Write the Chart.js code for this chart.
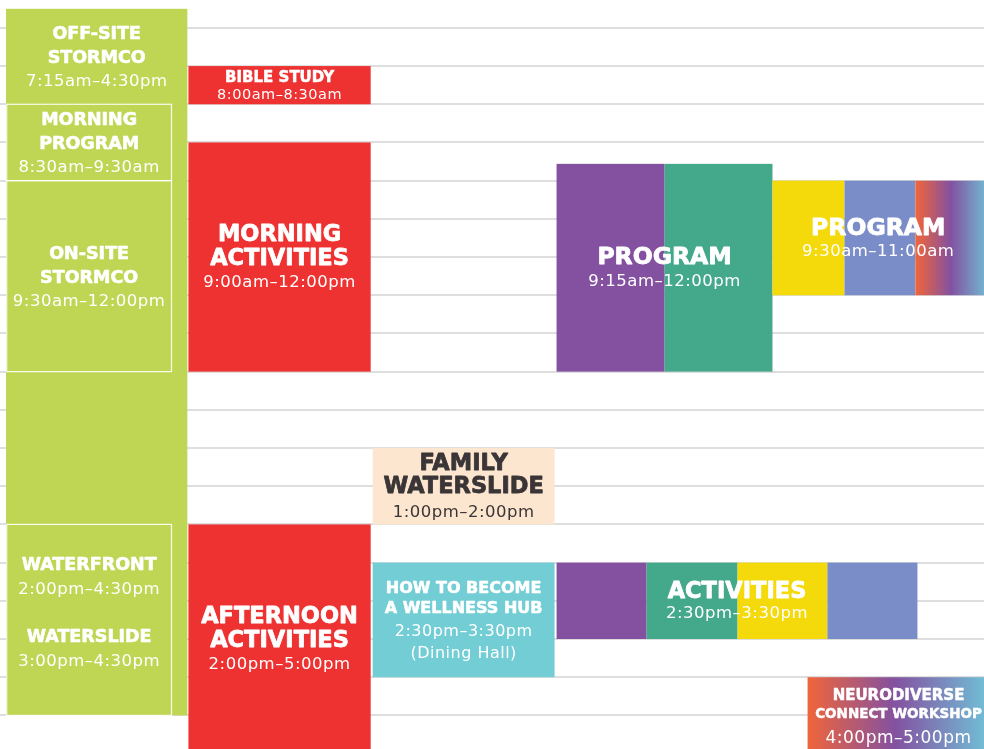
<!DOCTYPE html>
<html>
<head>
<meta charset="utf-8">
<title>Camp schedule</title>
<script src="https://cdn.jsdelivr.net/npm/chart.js@4.4.1/dist/chart.umd.min.js"></script>
<style>
  html, body { margin: 0; padding: 0; background: #fff; }
  #wrap { width: 984px; height: 749px; }
</style>
</head>
<body>
<div id="wrap"><canvas id="schedule" width="984" height="749"></canvas></div>
<script>
// times are hours of the day (24h), lanes are in column units (1 = one column)
const blockNames = ["Stormco", "Bible Study", "Morning Activities",
  "Program purple", "Program teal", "Program yellow", "Program blue", "Program mix",
  "Family Waterslide", "Wellness Hub", "Afternoon Activities",
  "Activities purple", "Activities teal", "Activities yellow", "Activities blue",
  "Neurodiverse Workshop"];
const blockStart = [7.25, 8, 9, 9.28, 9.28, 9.5, 9.5, 9.5, 13, 14.5, 14, 14.5, 14.5, 14.5, 14.5, 16];
const blockEnd = [16.5, 8.5, 12, 12, 12, 11, 11, 11, 14, 16, 17, 15.5, 15.5, 15.5, 15.5, 17];
const laneFrom = [0.033, 1.036, 1.036, 3.06, 3.654, 4.247, 4.643, 5.033, 2.049, 2.049, 1.036, 3.06, 3.555, 4.055, 4.549, 4.44];
const laneTo = [1.03, 2.038, 2.038, 3.654, 4.247, 4.643, 5.033, 5.44, 3.049, 3.049, 2.038, 3.555, 4.055, 4.549, 5.044, 5.44];

// white outlined boxes inside the Stormco column
const boxStart = [8.5, 9.5, 14];
const boxEnd = [9.5, 12, 16.5];
const boxFrom = [0.037, 0.037, 0.037];
const boxTo = [0.943, 0.943, 0.943];

// text labels: [text, kind] where kind t = title, h = hours, g = blank line
const labelLines = [
  [["OFF-SITE", "t"], ["STORMCO", "t"], ["7:15am–4:30pm", "h"]],
  [["MORNING", "t"], ["PROGRAM", "t"], ["8:30am–9:30am", "h"]],
  [["ON-SITE", "t"], ["STORMCO", "t"], ["9:30am–12:00pm", "h"]],
  [["WATERFRONT", "t"], ["2:00pm–4:30pm", "h"], ["", "g"], ["WATERSLIDE", "t"], ["3:00pm–4:30pm", "h"]],
  [["BIBLE STUDY", "t"], ["8:00am–8:30am", "h"]],
  [["MORNING", "t"], ["ACTIVITIES", "t"], ["9:00am–12:00pm", "h"]],
  [["PROGRAM", "t"], ["9:15am–12:00pm", "h"]],
  [["PROGRAM", "t"], ["9:30am–11:00am", "h"]],
  [["FAMILY", "t"], ["WATERSLIDE", "t"], ["1:00pm–2:00pm", "h"]],
  [["HOW TO BECOME", "t"], ["A WELLNESS HUB", "t"], ["2:30pm–3:30pm", "h"], ["(Dining Hall)", "h"]],
  [["AFTERNOON", "t"], ["ACTIVITIES", "t"], ["2:00pm–5:00pm", "h"]],
  [["ACTIVITIES", "t"], ["2:30pm–3:30pm", "h"]],
  [["NEURODIVERSE", "t"], ["CONNECT WORKSHOP", "t"], ["4:00pm–5:00pm", "h"]]
];
const labelStart = [7.25, 8.5, 9.5, 14, 8, 9, 9.28, 9.5, 13, 14.5, 14, 14.5, 16];
const labelEnd = [8.5, 9.5, 12, 16.5, 8.5, 12, 12, 11, 14, 16, 17, 15.5, 17];
const labelFrom = [0.033, 0.037, 0.037, 0.037, 1.036, 1.036, 3.06, 4.247, 2.049, 2.049, 1.036, 3.06, 4.44];
const labelTo = [1.03, 0.943, 0.943, 0.943, 2.038, 2.038, 4.247, 5.41, 3.049, 3.049, 2.038, 5.044, 5.44];

// styles
const green = "#bed653", red = "#ee3131", purple = "#8351a0", teal = "#44a88a";
const yellow = "#f4d90b", blue = "#7b8dc8", peach = "#fde6cf", aqua = "#73cdd5";
const blockColors = [green, red, red, purple, teal, yellow, blue, "mix", peach, aqua, red,
  purple, teal, yellow, blue, "mix"];
const FONT = '"DejaVu Sans", sans-serif';
const greenStyle = { title: 17.5, hours: 16.5, tLead: 24, hLead: 23.5 };
const bigStyle = { title: 22.5, hours: 16.5, tLead: 24, hLead: 24.5 };
const labelStyles = [
  greenStyle, greenStyle, greenStyle,
  { title: 17.5, hours: 16.5, tLead: 23.5, hLead: 25, shift: -8 },
  { title: 15, hours: 14.5, tLead: 17, hLead: 17 },
  bigStyle,
  { title: 23.5, hours: 16.5, tLead: 24, hLead: 25 },
  { title: 23.5, hours: 16.5, tLead: 24, hLead: 24 },
  { title: 22.5, hours: 16.5, tLead: 23, hLead: 26, color: "#3a3536" },
  { title: 16, hours: 16, tLead: 20, hLead: 22.5 },
  bigStyle,
  { title: 22.5, hours: 16.5, tLead: 24, hLead: 22 },
  { title: 15, hours: 17, tLead: 19, hLead: 23, sizes: [15, 13.5, 17] }
];

const schedulePlugin = {
  id: "schedule",
  beforeDatasetsDraw(chart) {
    const { ctx, chartArea, scales: { x, y } } = chart;
    ctx.save();
    ctx.beginPath();
    ctx.rect(chartArea.left, chartArea.top, chartArea.width, chartArea.height);
    ctx.clip();

    blockNames.forEach((name, i) => {
      const left = x.getPixelForValue(laneFrom[i]);
      const right = x.getPixelForValue(laneTo[i]);
      const top = y.getPixelForValue(blockStart[i]);
      const bottom = y.getPixelForValue(blockEnd[i]);
      let fill = blockColors[i];
      if (fill === "mix") {
        const g = ctx.createLinearGradient(left, 0, right, 0);
        g.addColorStop(0, "#f0653a");
        g.addColorStop(0.48, "#8351a0");
        g.addColorStop(1, "#70c2d8");
        fill = g;
      }
      ctx.fillStyle = fill;
      ctx.fillRect(left, top, right - left, bottom - top);
    });

    ctx.strokeStyle = "rgba(255,255,255,0.9)";
    ctx.lineWidth = 1.2;
    boxStart.forEach((start, i) => {
      const left = x.getPixelForValue(boxFrom[i]);
      const right = x.getPixelForValue(boxTo[i]);
      const top = y.getPixelForValue(start);
      const bottom = y.getPixelForValue(boxEnd[i]);
      ctx.strokeRect(left, top, right - left, bottom - top);
    });
    ctx.restore();
  },
  afterDatasetsDraw(chart) {
    const { ctx, chartArea, scales: { x, y } } = chart;
    ctx.save();
    ctx.beginPath();
    ctx.rect(chartArea.left, chartArea.top, chartArea.width, chartArea.height);
    ctx.clip();
    ctx.textAlign = "center";
    ctx.textBaseline = "alphabetic";
    ctx.lineJoin = "round";

    labelLines.forEach((lines, i) => {
      const st = labelStyles[i];
      const cx = (x.getPixelForValue(labelFrom[i]) + x.getPixelForValue(labelTo[i])) / 2;
      const cy = (y.getPixelForValue(labelStart[i]) + y.getPixelForValue(labelEnd[i])) / 2 + (st.shift || 0);

      // line centres relative to the first line
      const offsets = [0];
      for (let k = 1; k < lines.length; k++) {
        offsets.push(offsets[k - 1] + (lines[k][1] === "h" ? st.hLead : st.tLead));
      }
      const first = cy - offsets[offsets.length - 1] / 2;

      ctx.fillStyle = st.color || "#ffffff";
      ctx.strokeStyle = st.color || "#ffffff";
      lines.forEach(([text, kind], k) => {
        if (kind === "g") return;
        const size = st.sizes ? st.sizes[k] : (kind === "t" ? st.title : st.hours);
        ctx.font = (kind === "t" ? "bold " : "") + size + "px " + FONT;
        ctx.letterSpacing = kind === "h" ? "0.5px" : "0px";
        const ty = first + offsets[k] + size * 0.365;
        ctx.fillText(text, cx, ty);
        if (kind === "t") {
          // heavier titles, closer to the poster's display face
          ctx.lineWidth = size * 0.035;
          ctx.strokeText(text, cx, ty);
        }
      });
    });
    ctx.restore();
  }
};

const ctx = document.getElementById("schedule").getContext("2d");
new Chart(ctx, {
  type: "scatter",
  data: { datasets: [] },
  options: {
    responsive: false,
    animation: false,
    events: [],
    layout: { padding: 0 },
    plugins: {
      legend: { display: false },
      tooltip: { enabled: false }
    },
    scales: {
      x: { type: "linear", min: 0, max: 5.41, display: false },
      y: {
        type: "linear",
        min: 7.135,
        max: 16.94,
        reverse: true,
        ticks: { display: false, stepSize: 0.5 },
        grid: { color: "#dedede", lineWidth: 2, drawTicks: false },
        border: { display: false },
        afterBuildTicks: (axis) => {
          axis.ticks = axis.ticks.filter((t) => Math.abs(t.value * 2 - Math.round(t.value * 2)) < 1e-6);
        }
      }
    }
  },
  plugins: [schedulePlugin]
});
</script>
</body>
</html>
